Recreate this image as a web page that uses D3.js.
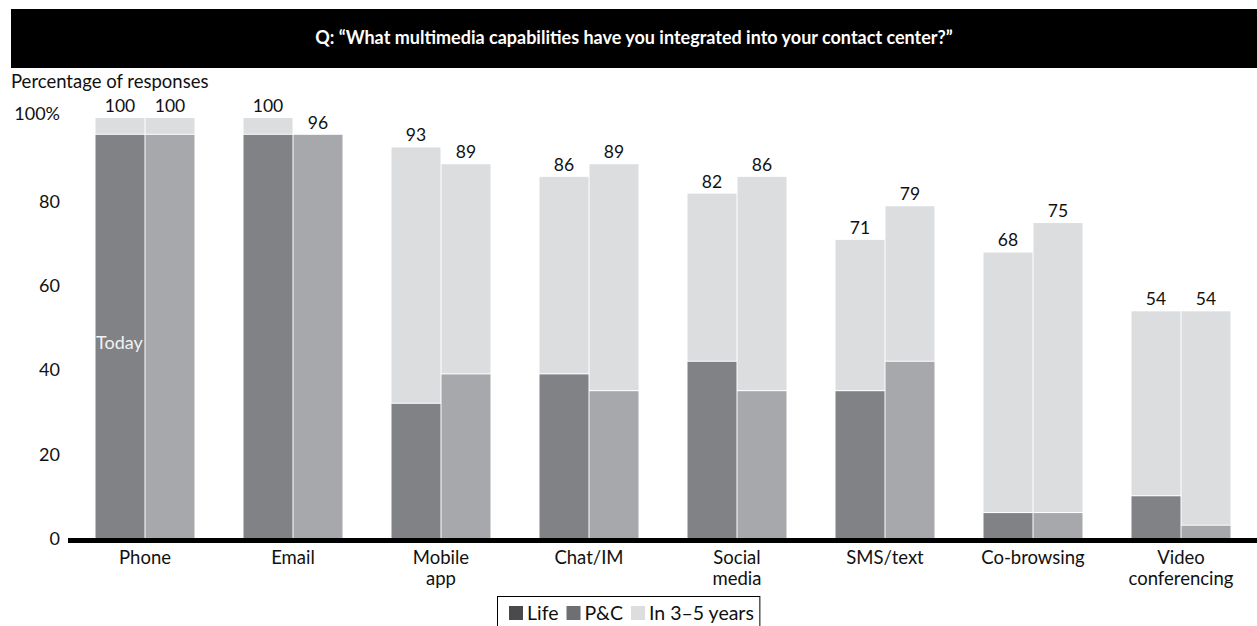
<!DOCTYPE html>
<html>
<head>
<meta charset="utf-8">
<script src="https://cdn.jsdelivr.net/npm/d3@7"></script>
<style>
  html, body { margin: 0; padding: 0; background: #fff; }
  svg { display: block; font-family: Lato, "Noto Sans", sans-serif; }
</style>
</head>
<body>
<svg id="chart" width="1257" height="626"></svg>
<script>
const title = "Q: \u201cWhat multimedia capabilities have you integrated into your contact center?\u201d";
const yAxisTitle = "Percentage of responses";
const categories = ["Phone", "Email", "Mobile app", "Chat/IM", "Social media", "SMS/text", "Co-browsing", "Video conferencing"];
const categoryLines = [["Phone"], ["Email"], ["Mobile", "app"], ["Chat/IM"], ["Social", "media"], ["SMS/text"], ["Co-browsing"], ["Video", "conferencing"]];
const groups = ["Life", "P&C"];
const lifeToday = [96, 96, 32, 39, 42, 35, 6, 10];
const lifeTotal = [100, 100, 93, 86, 82, 71, 68, 54];
const pcToday = [96, 96, 39, 35, 35, 42, 6, 3];
const pcTotal = [100, 96, 89, 89, 86, 79, 75, 54];
const yTicks = [0, 20, 40, 60, 80, 100];
const yTickLabels = ["0", "20", "40", "60", "80", "100%"];
const legendItems = ["Life", "P&C", "In 3\u20135 years"];
const todayLabel = "Today";

const colors = { lifeToday: "#818285", pcToday: "#a7a8ab", future: "#dcdddf" };
const legendColors = ["#4a4a4c", "#6e6f72", "#dcdddf"];

const svg = d3.select("#chart");

// header
svg.append("rect").attr("x", 11).attr("y", 9).attr("width", 1257 - 11).attr("height", 59).attr("fill", "#000");
svg.append("text").attr("x", 634).attr("y", 44).attr("text-anchor", "middle")
  .attr("fill", "#fff").attr("font-weight", "bold").attr("font-size", 18).text(title);

svg.append("text").attr("x", 11).attr("y", 88).attr("font-size", 18.5).attr("fill", "#111").text(yAxisTitle);

const y = d3.scaleLinear().domain([0, 100]).range([538.3, 118]);
const x0 = d3.scaleBand().domain(categories).range([71, 1255]).paddingInner(48 / 148).paddingOuter(24 / 148);
const x1 = d3.scaleBand().domain(groups).range([0, x0.bandwidth()]);

// y tick labels
const yAxis = d3.axisLeft(y).tickValues(yTicks).tickSize(0).tickPadding(0)
  .tickFormat((d, i) => yTickLabels[i]);
const yg = svg.append("g").attr("transform", "translate(60,0)").call(yAxis);
yg.select(".domain").remove();
yg.selectAll("text").attr("font-size", 18).attr("fill", "#111").attr("font-family", "Lato, sans-serif")
  .attr("dy", (d) => d === 0 ? "0.35em" : "0.32em");
yg.selectAll("text").filter(d => d === 100).attr("dy", "0.1em");

// bars
const rows = categories.map((c, i) => ({
  cat: c,
  bars: [
    { g: "Life", today: lifeToday[i], total: lifeTotal[i], color: colors.lifeToday },
    { g: "P&C", today: pcToday[i], total: pcTotal[i], color: colors.pcToday }
  ]
}));

const gCat = svg.selectAll("g.cat").data(rows).enter().append("g").attr("class", "cat")
  .attr("transform", d => `translate(${x0(d.cat)},0)`);

const gBar = gCat.selectAll("g.bar").data(d => d.bars).enter().append("g").attr("class", "bar");

gBar.append("rect")
  .attr("x", d => x1(d.g) + 0.5).attr("width", x1.bandwidth() - 1)
  .attr("y", d => y(d.total)).attr("height", d => y(d.today) - y(d.total) - 1)
  .attr("fill", colors.future);
gBar.append("rect")
  .attr("x", d => x1(d.g) + 0.5).attr("width", x1.bandwidth() - 1)
  .attr("y", d => y(d.today)).attr("height", d => y(0) - y(d.today))
  .attr("fill", d => d.color);
gBar.append("text")
  .attr("x", d => x1(d.g) + x1.bandwidth() / 2).attr("y", d => y(d.total) - 6)
  .attr("text-anchor", "middle").attr("font-size", 17.5).attr("fill", "#111")
  .text(d => d.total);

// Today label
svg.append("text").attr("x", x0(categories[0]) + 1).attr("y", y(45))
  .attr("font-size", 18).attr("fill", "#f2f2f2").text(todayLabel);

// baseline
svg.append("rect").attr("x", 68).attr("y", 538).attr("width", 1257 - 68).attr("height", 5).attr("fill", "#000");

// x labels
const xl = svg.selectAll("text.xl").data(categories).enter().append("text").attr("class", "xl")
  .attr("x", d => x0(d) + x0.bandwidth() / 2).attr("y", 564)
  .attr("text-anchor", "middle").attr("font-size", 18.5).attr("fill", "#111");
xl.each(function (d, i) {
  const t = d3.select(this);
  categoryLines[i].forEach((line, j) => {
    t.append("tspan").attr("x", x0(d) + x0.bandwidth() / 2).attr("dy", j === 0 ? 0 : 21).text(line);
  });
});

// legend
const lg = svg.append("g");
let lx = 509;
legendItems.forEach((name, i) => {
  lg.append("rect").attr("x", lx).attr("y", 606).attr("width", 14).attr("height", 14).attr("fill", legendColors[i]);
  const t = lg.append("text").attr("x", lx + 18).attr("y", 620).attr("font-size", 19.5).attr("fill", "#111").text(name);
  const w = t.node().getComputedTextLength();
  lx = lx + 18 + w + 8;
});
lg.insert("rect", ":first-child").attr("x", 497.5).attr("y", 596.5).attr("width", lx - 497.5 - 2).attr("height", 40)
  .attr("fill", "#fff").attr("stroke", "#000").attr("stroke-width", 1);
</script>
</body>
</html>
